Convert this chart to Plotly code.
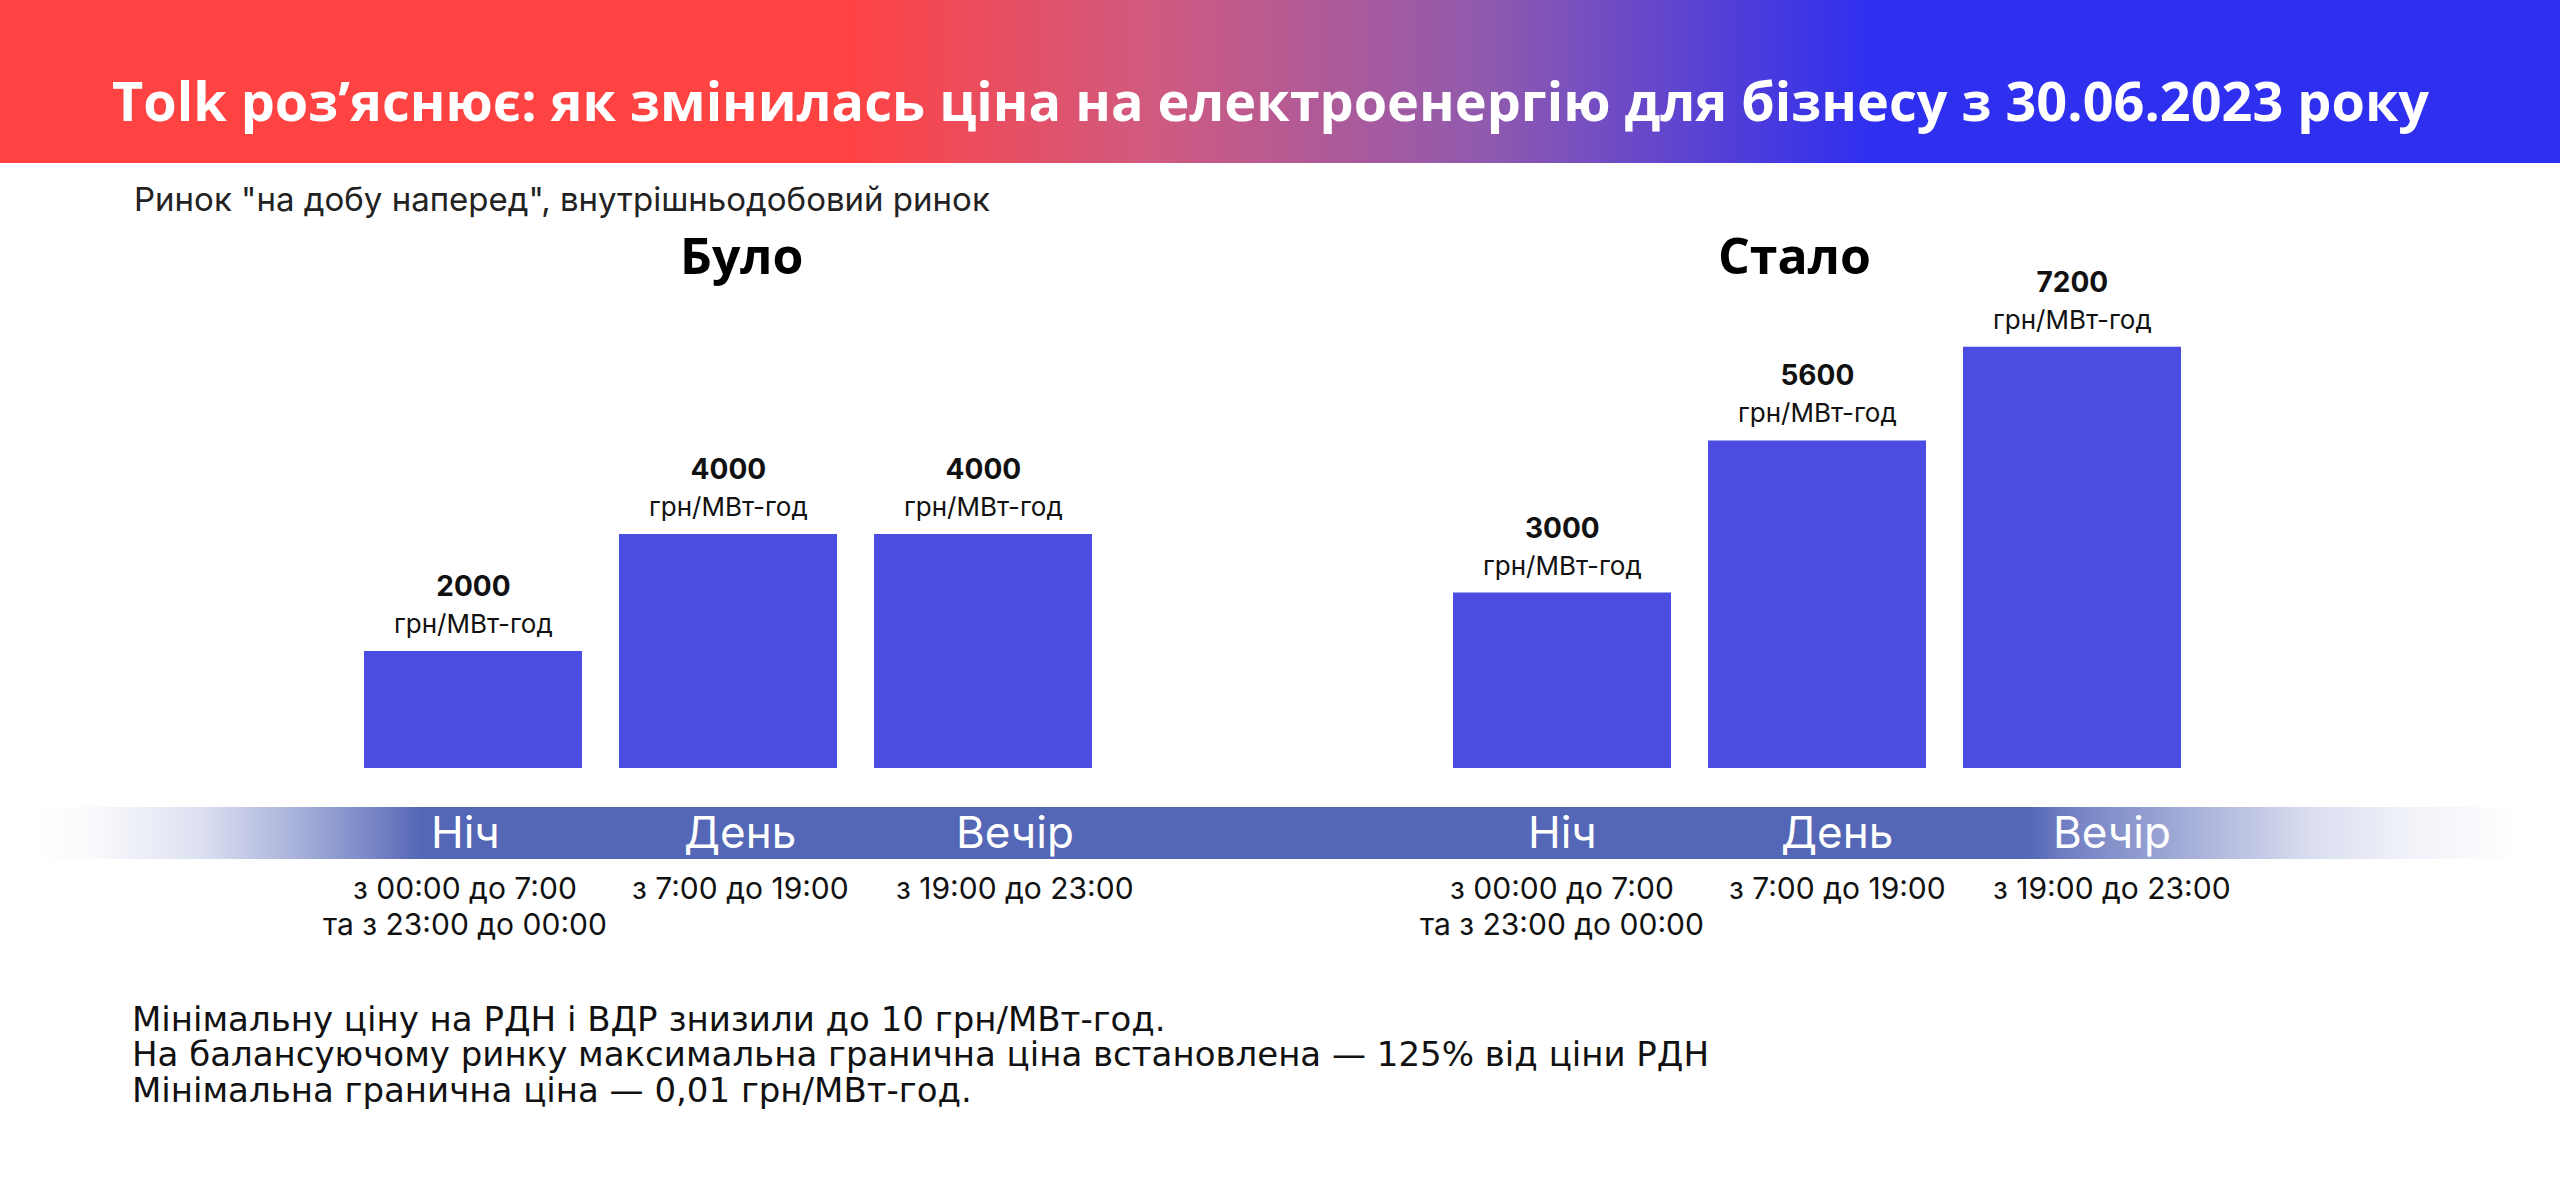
import base64
import plotly.graph_objects as go

# ---------------- data ----------------
periods = ["Ніч", "День", "Вечір"]
before_values = [2000, 4000, 4000]
after_values = [3000, 5600, 7200]
group_titles = ["Було", "Стало"]
time_ranges = [
    "з 00:00 до 7:00<br>та з 23:00 до 00:00",
    "з 7:00 до 19:00",
    "з 19:00 до 23:00",
]
unit = "грн/МВт-год"
title_text = "Tolk роз’яснює: як змінилась ціна на електроенергію для бізнесу з 30.06.2023 року"
subtitle_text = "Ринок \"на добу наперед\", внутрішньодобовий ринок"
notes = [
    "Мінімальну ціну на РДН і ВДР знизили до 10 грн/МВт-год.",
    "На балансуючому ринку максимальна гранична ціна встановлена — 125% від ціни РДН",
    "Мінімальна гранична ціна — 0,01 грн/МВт-год.",
]

# ---------------- layout helpers ----------------
W, H = 2560, 1192
FONT_BOLD = "Open Sans"
FONT = "Inter"
FONT_NOTES = "DejaVu Sans"
BAR_COLOR = "#4B4CE1"


def px_x(p):
    return p / W


def px_y(p):
    return 1 - p / H


def sized(text, px):
    return f'<span style="font-size:{px}px">{text}</span>'


bar_bottom_px = 768
plot_top_px = 200
px_per_unit = 0.0585
y_top = (bar_bottom_px - plot_top_px) / px_per_unit

slot = 255
left_domain = [px_x(473 - slot / 2), px_x(473 + slot * 2.5)]
right_domain = [px_x(1562 - slot / 2), px_x(1562 + slot * 2.5)]
# the period captions in the original are spread slightly wider than the bars
group_label_offset = {"x": 12, "x2": 20}
label_spread = 20


def svg_uri(svg):
    return "data:image/svg+xml;base64," + base64.b64encode(svg.encode("utf-8")).decode("ascii")


header_svg = (
    '<svg xmlns="http://www.w3.org/2000/svg" width="2560" height="163" viewBox="0 0 2560 163" '
    'preserveAspectRatio="none"><defs><linearGradient id="g" x1="0" y1="0" x2="1" y2="0">'
    '<stop offset="0" stop-color="#FF4242"/>'
    '<stop offset="0.33" stop-color="#FF4242"/>'
    '<stop offset="0.45" stop-color="#D05A80"/>'
    '<stop offset="0.58" stop-color="#905AAE"/>'
    '<stop offset="0.73" stop-color="#2F2FEF"/>'
    '<stop offset="1" stop-color="#2F2FEF"/>'
    '</linearGradient></defs><rect x="0" y="0" width="2560" height="163" fill="url(#g)"/></svg>'
)

band_stops = [(30, 0.0), (100, 0.04), (200, 0.2), (300, 0.52), (390, 0.86), (420, 1.0),
              (2030, 1.0), (2060, 0.85), (2160, 0.6), (2310, 0.22), (2410, 0.08), (2520, 0.0)]
band_svg = (
    '<svg xmlns="http://www.w3.org/2000/svg" width="2560" height="52" viewBox="0 0 2560 52" '
    'preserveAspectRatio="none"><defs><linearGradient id="b" x1="0" y1="0" x2="1" y2="0">'
    + "".join(
        f'<stop offset="{p / W:.4f}" stop-color="#5466B6" stop-opacity="{o}"/>' for p, o in band_stops
    )
    + '</linearGradient></defs><rect x="0" y="0" width="2560" height="52" fill="url(#b)"/></svg>'
)

fig = go.Figure()

fig.add_trace(go.Bar(x=periods, y=before_values, xaxis="x", yaxis="y",
                     marker=dict(color=BAR_COLOR, line=dict(width=0)),
                     name=group_titles[0], hoverinfo="x+y"))
fig.add_trace(go.Bar(x=periods, y=after_values, xaxis="x2", yaxis="y",
                     marker=dict(color=BAR_COLOR, line=dict(width=0)),
                     name=group_titles[1], hoverinfo="x+y"))

annotations = []

# value labels above bars
for xref, vals in (("x", before_values), ("x2", after_values)):
    for p, v in zip(periods, vals):
        annotations.append(dict(
            x=p, y=v, xref=xref, yref="y", yanchor="bottom", xanchor="center",
            yshift=10, showarrow=False,
            text=f"<b>{sized(v, 28)}</b><br>{sized(unit, 26)}",
            font=dict(family=FONT, size=28.5, color="#111111"),
        ))

# period names on the band + time ranges below it
for xref in ("x", "x2"):
    for i, (p, t) in enumerate(zip(periods, time_ranges)):
        shift = group_label_offset[xref] + (i - 1) * label_spread
        annotations.append(dict(
            x=p, y=px_y(832), xref=xref, yref="paper", yanchor="middle", xanchor="center",
            xshift=shift, showarrow=False, text=p,
            font=dict(family=FONT, size=44, color="#FFFFFF"),
        ))
        annotations.append(dict(
            x=p, y=px_y(868), xref=xref, yref="paper", yanchor="top", xanchor="center",
            xshift=shift, showarrow=False,
            text="<br>".join(sized(line, 30) for line in t.split("<br>")),
            font=dict(family=FONT, size=27.7, color="#111111"),
        ))

# group headings
for t, xp in zip(group_titles, (742, 1794)):
    annotations.append(dict(
        x=px_x(xp), y=px_y(255), xref="paper", yref="paper", xanchor="center", yanchor="middle",
        showarrow=False, text=f"<b>{t}</b>",
        font=dict(family=FONT_BOLD, size=50, color="#000000"),
    ))

# title
annotations.append(dict(
    x=px_x(1270), y=px_y(100), xref="paper", yref="paper", xanchor="center", yanchor="middle",
    showarrow=False, text=f"<b>{title_text}</b>",
    font=dict(family=FONT_BOLD, size=54, color="#FFFFFF"),
))

# subtitle
annotations.append(dict(
    x=px_x(132), y=px_y(199), xref="paper", yref="paper", xanchor="left", yanchor="middle",
    showarrow=False, text=subtitle_text,
    font=dict(family=FONT, size=33, color="#222222"),
))

# notes (one block, line pitch from the block font, glyph size from spans)
annotations.append(dict(
    x=px_x(130), y=px_y(1054), xref="paper", yref="paper",
    xanchor="left", yanchor="middle", align="left", showarrow=False,
    text="<br>".join(sized(n, 34) for n in notes),
    font=dict(family=FONT_NOTES, size=27.3, color="#111111"),
))

axis_common = dict(
    type="category", categoryorder="array", categoryarray=periods,
    range=[-0.5, len(periods) - 0.5], autorange=False,
    showgrid=False, zeroline=False, showline=False, ticks="",
    showticklabels=False, fixedrange=True,
)

fig.update_layout(
    width=W, height=H,
    margin=dict(l=0, r=0, t=0, b=0),
    paper_bgcolor="#FFFFFF", plot_bgcolor="rgba(0,0,0,0)",
    showlegend=False,
    bargap=1 - 218 / 255,
    xaxis=dict(domain=left_domain, anchor="y", **axis_common),
    xaxis2=dict(domain=right_domain, anchor="y", **axis_common),
    yaxis=dict(domain=[px_y(bar_bottom_px), px_y(plot_top_px)], range=[0, y_top],
               autorange=False, visible=False, fixedrange=True, anchor="x"),
    annotations=annotations,
    images=[
        dict(source=svg_uri(header_svg), xref="paper", yref="paper", x=0, y=1,
             sizex=1, sizey=163 / H, xanchor="left", yanchor="top",
             sizing="stretch", layer="below"),
        dict(source=svg_uri(band_svg), xref="paper", yref="paper", x=0, y=px_y(807),
             sizex=1, sizey=52 / H, xanchor="left", yanchor="top",
             sizing="stretch", layer="below"),
    ],
)

fig.write_html("out.html", config={"displayModeBar": False})
